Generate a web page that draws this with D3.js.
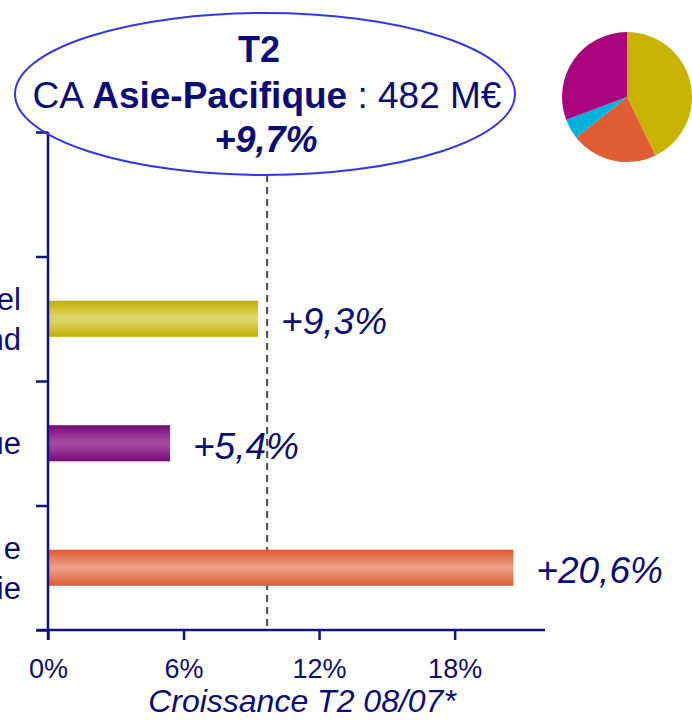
<!DOCTYPE html>
<html>
<head>
<meta charset="utf-8">
<script src="https://cdn.jsdelivr.net/npm/d3@7"></script>
<style>
  html, body { margin: 0; padding: 0; background: #fff; }
  svg { display: block; font-family: "Liberation Sans", Arial, sans-serif; }
</style>
</head>
<body>
<svg id="chart" width="692" height="720"></svg>
<script>
// ---- data ----
const categories = ["c0", "c1", "c2", "c3"];
const categoryLabels = [[], ["el", "nd"], ["ue"], ["e", "ie"]];
const growthValues = [null, 9.3, 5.4, 20.6];
const valueLabels = ["", "+9,3%", "+5,4%", "+20,6%"];
const barEdgeColors = [null, "#C4B000", "#7A0877", "#DE5A30"];
const barMidColors = [null, "#DDD468", "#A4489F", "#EC9C82"];
const averageGrowth = 9.7;
const xTicks = [0, 6, 12, 18];
const xTickLabels = ["0%", "6%", "12%", "18%"];
const axisTitle = "Croissance T2 08/07*";
const pieValues = [42.8, 21.5, 5.0, 30.7];
const pieColors = ["#C8B400", "#E05C33", "#00B2DC", "#AA047E"];
const titleLine1 = "T2";
const titleLine3 = "+9,7%";

// ---- drawing ----
const svg = d3.select("#chart");
const navy = "#0c0c78";
const axisColor = "#10108c";

const x = d3.scaleLinear().domain([0, 22]).range([48, 545]);
const y = d3.scaleBand().domain(categories).range([132, 630]).padding(0);
const yLin = d3.scaleLinear().domain([0, categories.length]).range([630, 132]);

// gradients
const defs = svg.append("defs");
categories.forEach((c, i) => {
  if (growthValues[i] == null) return;
  const g = defs.append("linearGradient").attr("id", "grad" + i)
    .attr("x1", 0).attr("y1", 0).attr("x2", 0).attr("y2", 1);
  g.append("stop").attr("offset", "0%").attr("stop-color", barEdgeColors[i]);
  g.append("stop").attr("offset", "45%").attr("stop-color", barMidColors[i]);
  g.append("stop").attr("offset", "55%").attr("stop-color", barMidColors[i]);
  g.append("stop").attr("offset", "100%").attr("stop-color", barEdgeColors[i]);
});

// dashed average line
const ell = { cx: 265, cy: 94, rx: 250, ry: 81 };
svg.append("line")
  .attr("x1", x(averageGrowth)).attr("x2", x(averageGrowth))
  .attr("y1", ell.cy + ell.ry).attr("y2", 630)
  .attr("stroke", "#4a4a4a").attr("stroke-width", 2)
  .attr("stroke-dasharray", "7,5");

// bars
const barH = y.bandwidth() * 0.29;
const data = categories.map((c, i) => ({ c, i, v: growthValues[i] })).filter(d => d.v != null);
svg.selectAll("rect.bar").data(data).join("rect")
  .attr("class", "bar")
  .attr("x", x(0))
  .attr("y", d => y(d.c) + y.bandwidth() / 2 - barH / 2)
  .attr("width", d => x(d.v) - x(0))
  .attr("height", barH)
  .attr("fill", d => "url(#grad" + d.i + ")");

// value labels
svg.selectAll("text.val").data(data).join("text")
  .attr("class", "val")
  .attr("x", d => x(d.v) + 23)
  .attr("y", d => y(d.c) + y.bandwidth() / 2)
  .attr("dy", "0.42em")
  .attr("font-size", 37).attr("font-style", "italic")
  .attr("fill", navy)
  .text(d => valueLabels[d.i]);

// y axis (ticks at band boundaries)
const yAxis = d3.axisLeft(yLin).ticks(categories.length).tickSize(12).tickSizeOuter(0).tickFormat("");
const gy = svg.append("g").attr("transform", `translate(${x(0)},0)`).call(yAxis);
gy.select(".domain").remove();
gy.selectAll("line").attr("stroke", axisColor).attr("stroke-width", 2.5);
svg.append("line").attr("x1", x(0)).attr("x2", x(0)).attr("y1", 132).attr("y2", 640)
  .attr("stroke", axisColor).attr("stroke-width", 2.5);

// x axis
const xAxis = d3.axisBottom(x).tickValues(xTicks).tickSize(10).tickSizeOuter(0)
  .tickFormat((d, i) => xTickLabels[i]);
const gx = svg.append("g").attr("transform", "translate(0,630)").call(xAxis);
gx.select(".domain").remove();
gx.selectAll("line").attr("stroke", axisColor).attr("stroke-width", 2.5);
gx.selectAll("text").attr("y", 48).attr("dy", 0).attr("font-size", 27)
  .attr("fill", navy).attr("font-family", "Liberation Sans, Arial, sans-serif");
svg.append("line").attr("x1", 37).attr("x2", 545).attr("y1", 630).attr("y2", 630)
  .attr("stroke", axisColor).attr("stroke-width", 2.5);

// axis title
svg.append("text").attr("x", 302).attr("y", 712).attr("text-anchor", "middle")
  .attr("font-size", 32).attr("font-style", "italic").attr("fill", navy).text(axisTitle);

// category labels (cropped in the source)
categories.forEach((c, i) => {
  const lines = categoryLabels[i];
  const cy = y(c) + y.bandwidth() / 2;
  lines.forEach((t, k) => {
    svg.append("text").attr("x", 21)
      .attr("y", cy + (k - (lines.length - 1) / 2) * 40)
      .attr("dy", "0.36em")
      .attr("text-anchor", "end").attr("font-size", 31).attr("fill", navy).text(t);
  });
});

// title ellipse
svg.append("ellipse").attr("cx", ell.cx).attr("cy", ell.cy).attr("rx", ell.rx).attr("ry", ell.ry)
  .attr("fill", "none").attr("stroke", "#3434F0").attr("stroke-width", 2);

svg.append("text").attr("x", 259).attr("y", 62).attr("text-anchor", "middle")
  .attr("font-size", 36).attr("font-weight", "bold").attr("fill", navy).text(titleLine1);
const t2 = svg.append("text").attr("x", 267).attr("y", 108).attr("text-anchor", "middle")
  .attr("font-size", 37).attr("fill", navy);
t2.append("tspan").text("CA ");
t2.append("tspan").attr("font-weight", "bold").text("Asie-Pacifique");
t2.append("tspan").text(" : 482 M€");
svg.append("text").attr("x", 266).attr("y", 152).attr("text-anchor", "middle")
  .attr("font-size", 36).attr("font-weight", "bold").attr("font-style", "italic")
  .attr("fill", navy).text(titleLine3);

// pie
const pie = d3.pie().sort(null).value(d => d);
const arc = d3.arc().innerRadius(0).outerRadius(65);
svg.append("g").attr("transform", "translate(627,97)")
  .selectAll("path").data(pie(pieValues)).join("path")
  .attr("d", arc).attr("fill", (d, i) => pieColors[i]);
</script>
</body>
</html>
